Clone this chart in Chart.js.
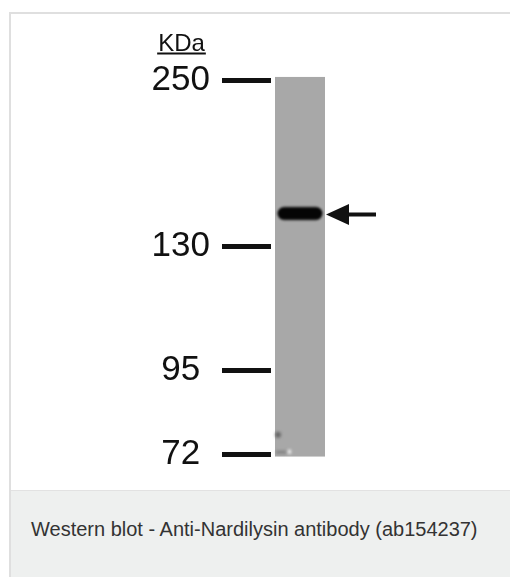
<!DOCTYPE html>
<html>
<head>
<meta charset="utf-8">
<script src="https://cdn.jsdelivr.net/npm/chart.js@4/dist/chart.umd.min.js"></script>
<style>
	body { margin: 0; background: #fff; overflow: hidden; }
	#frame { position: absolute; left: 9px; top: 12px; width: 520px; height: 600px; border-left: 2px solid #dfdfdf; border-top: 2px solid #dfdfdf; }
	#caption { position: absolute; left: 0; top: 476px; width: 520px; height: 100px; background: #eef0ef; border-top: 1px solid #e2e2e2; }
	#caption span { position: absolute; left: 20px; top: 27px; font-family: "Liberation Sans", Arial, sans-serif; font-size: 20px; color: #333; white-space: nowrap; }
	#myChart { position: absolute; left: 0; top: 0; }
</style>
</head>
<body>
<div id="frame"><div id="caption"><span>Western blot - Anti-Nardilysin antibody (ab154237)</span></div></div>
<canvas id="myChart" width="510" height="490"></canvas>
<script>
// marker ladder (migration in % of lane length).
var markerKDa = [250, 130, 95, 72];
var markerMigration = [1, 44.7, 77.2, 99.3];

// one lane, spanning the whole gel.
var laneLabels = ["Lane 1"];
var laneRange = [[0, 100]];

// the detected band (Nardilysin) sits between 250 and 130.
var bandMigration = [36];

// build a soft, rounded band image to use as the point style.
var bandImg = document.createElement('canvas');
bandImg.width = 52;
bandImg.height = 22;
var bctx = bandImg.getContext('2d');
bctx.filter = 'blur(0.8px)';
bctx.fillStyle = '#050505';
bctx.beginPath();
bctx.moveTo(10, 4.5);
bctx.lineTo(42, 4.5);
bctx.arc(42, 11, 6.5, -Math.PI / 2, Math.PI / 2);
bctx.lineTo(10, 17.5);
bctx.arc(10, 11, 6.5, Math.PI / 2, Math.PI * 1.5);
bctx.fill();

// draws "KDa" above the marker labels and the arrow next to the band.
var blotExtras = {
	id: 'blotExtras',
	afterDatasetsDraw: function (chart) {
		var ctx = chart.ctx,
				y = chart.scales.y,
				lane = chart.getDatasetMeta(0).data[0],
				band = chart.getDatasetMeta(1).data[0],
				labelX = y.right - 49 - 12 - 28.5;

		ctx.save();

		// small smudges at the bottom of the lane.
		var left = lane.x - lane.width / 2,
				bottom = Math.max(lane.y, lane.base);
		ctx.filter = 'blur(1.5px)';
		ctx.fillStyle = 'rgba(60,60,60,0.6)';
		ctx.beginPath();
		ctx.arc(left + 3, bottom - 22, 3, 0, Math.PI * 2);
		ctx.fill();
		ctx.fillStyle = 'rgba(90,90,90,0.5)';
		ctx.fillRect(left + 1, bottom - 6, 10, 3);
		ctx.fillStyle = 'rgba(255,255,255,0.9)';
		ctx.fillRect(left + 13, bottom - 7, 3, 4);
		ctx.filter = 'none';

		ctx.fillStyle = '#111';
		ctx.font = '24px "Liberation Sans", Arial, sans-serif';
		ctx.textAlign = 'center';
		ctx.textBaseline = 'alphabetic';
		ctx.fillText('KDa', labelX, 51);
		var w = ctx.measureText('KDa').width;
		ctx.fillRect(labelX - w / 2 - 1, 52.5, w + 2, 2);

		// arrow pointing at the band.
		var tipX = lane.x + lane.width / 2 + 1,
				by = band.y + 1;
		ctx.beginPath();
		ctx.moveTo(tipX, by);
		ctx.lineTo(tipX + 23, by - 10.5);
		ctx.lineTo(tipX + 23, by + 10.5);
		ctx.closePath();
		ctx.fill();
		ctx.fillRect(tipX + 20, by - 2, 30, 4);
		ctx.restore();
	}
};

var data = {
	labels: laneLabels,
	datasets: [
	{
		type: 'bar',
		order: 2,
		data: laneRange,
		backgroundColor: '#a8a8a8',
		borderWidth: 0,
		barPercentage: 50 / 58,
		categoryPercentage: 1
	},
	{
		type: 'line',
		order: 1,
		data: bandMigration,
		showLine: false,
		pointStyle: bandImg,
		pointRadius: 10
	}
	]
};

var option = {
	responsive: false,
	maintainAspectRatio: false,
	animation: false,
	events: [],
	layout: {
		padding: { left: 153, right: 181, top: 76.7, bottom: 33.3 }
	},
	plugins: {
		legend: { display: false },
		tooltip: { enabled: false }
	},
	scales: {
		x: { display: false },
		y: {
			min: 0,
			max: 100,
			reverse: true,
			border: { display: false },
			grid: {
				drawOnChartArea: false,
				drawTicks: true,
				tickLength: 49,
				tickWidth: 5,
				tickColor: '#111'
			},
			afterBuildTicks: function (scale) {
				scale.ticks = markerMigration.map(function (v) { return { value: v }; });
			},
			afterFit: function (scale) {
				scale.width = 118;
			},
			ticks: {
				autoSkip: false,
				crossAlign: 'center',
				padding: 12,
				color: '#111',
				font: { family: '"Liberation Sans", Arial, sans-serif', size: 35 },
				callback: function (value, index) {
					return markerKDa[index];
				}
			}
		}
	}
};

var myChart = new Chart(document.getElementById('myChart').getContext('2d'), {
	type: 'bar',
	data: data,
	options: option,
	plugins: [blotExtras]
});
</script>
</body>
</html>
